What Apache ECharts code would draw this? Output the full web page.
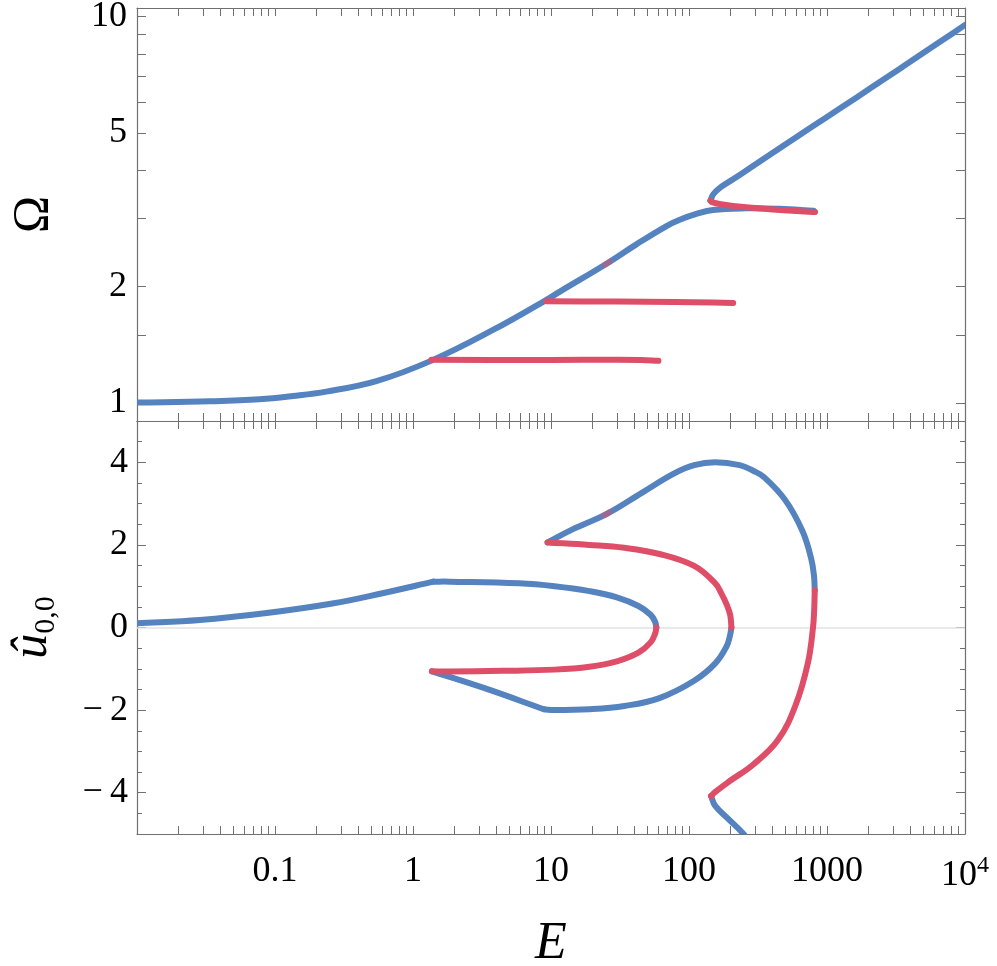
<!DOCTYPE html>
<html>
<head>
<meta charset="utf-8">
<script src="https://cdn.jsdelivr.net/npm/echarts@6/dist/echarts.min.js"></script>
<style>
  html, body { margin: 0; padding: 0; background: #fff; }
  #chart { width: 997px; height: 966px; }
</style>
</head>
<body>
<div id="chart"></div>
<script>
// tick labels
const eLabelValues = [0.1, 1, 10, 100, 1000, 10000]
const omegaLabelValues = [1, 2, 5, 10]
const omegaTickValues = [1, 1.5, 2, 3, 4, 5, 6, 7, 8, 9, 10]
const uLabelValues = [-4, -2, 0, 2, 4]
const uMinorTickValues = [-4.5, -3.5, -3, -2.5, -1.5, -1, -0.5, 0.5, 1, 1.5, 2.5, 3, 3.5, 4.5]

// top panel, Omega against E
const omegaBlueMain = [
  [0.01, 1.002], [0.0337, 1.01], [0.0774, 1.022], [0.135, 1.042], [0.235, 1.07],
  [0.543, 1.139], [1.36, 1.287], [3.8, 1.545], [9.27, 1.849],
  [11.6, 1.942], [25.6, 2.3], [41.3, 2.57], [68.7, 2.87], [85.7, 2.98],
  [113, 3.085], [149, 3.16], [260, 3.19], [454, 3.18], [800, 3.145]
]
const omegaRedFold = [
  [820, 3.12], [792, 3.12], [454, 3.16], [260, 3.21], [170, 3.27], [146.6, 3.31], [143, 3.34]
]
const omegaBlueUpper = [
  [143, 3.34], [150, 3.47], [170, 3.62], [210, 3.8], [275, 4.05], [400, 4.43], [637, 4.95],
  [1000, 5.5], [1650, 6.19], [2700, 6.96], [4000, 7.64], [6500, 8.58], [10000, 9.52]
]
const omegaRedLow = [[1.36, 1.293], [10, 1.292], [30, 1.294], [45, 1.292], [60, 1.286]]
const omegaRedMid = [[9.27, 1.833], [30, 1.83], [78, 1.826], [150, 1.82], [209, 1.815]]
const omegaRedSpot = [[24.6, 2.28], [26.6, 2.32]]

// bottom panel, u_{0,0} against E
const uBlueLeft = [[0.01, 0.1], [0.0285, 0.18], [0.087, 0.35], [0.26, 0.58], [0.6, 0.83], [1.4, 1.11]]
const uBlueInner = [
  [1.4, 1.11], [1.85, 1.11], [5.9, 1.07], [10.6, 1.0], [19, 0.88], [30, 0.73],
  [43, 0.52], [52.7, 0.31], [56.8, 0.14], [58, 0]
]
const uRedInner = [
  [58, 0], [56.8, -0.15], [52.7, -0.36], [43, -0.61], [30, -0.82], [19, -0.95], [10.6, -1.02],
  [4.43, -1.05], [1.85, -1.065], [1.37, -1.06]
]
const uBlueKink = [[1.37, -1.06], [3.3, -1.47], [8.9, -1.98]]
const uBlueMiddle = [
  [8.9, -1.98], [10.6, -2.0], [19, -1.98], [34, -1.9], [61, -1.71],
  [109, -1.29], [155, -0.87], [187, -0.46], [198, -0.2], [203, 0]
]
const uRedMiddle = [
  [203, 0], [199, 0.3], [188, 0.55], [170, 0.85], [155, 1.07], [109, 1.49], [61, 1.78],
  [34, 1.93], [19, 2.0], [9.44, 2.06]
]
const uBlueOuter = [
  [9.44, 2.06], [14.2, 2.37], [25.4, 2.75], [45.5, 3.26], [77, 3.72], [109, 3.93],
  [155, 4.0], [233, 3.93], [294, 3.79], [350, 3.64], [497, 3.09], [665, 2.33], [769, 1.66],
  [805, 1.25], [815, 0.9]
]
const uRedOuter = [
  [815, 0.9], [808, 0.45], [792, 0], [726, -0.87], [592, -1.88], [442, -2.72], [294, -3.31],
  [195, -3.73], [155, -3.98], [144.5, -4.08]
]
const uBlueTail = [[144.5, -4.08], [155, -4.32], [195, -4.65], [247, -4.99], [262, -5.12]]
const uRedSpot = [[24.4, 2.72], [26.4, 2.79]]

const BLUE = '#5583bf'
const RED = '#df4e68'
const FRAME = '#707070'
const FONT = "'Liberation Serif', 'DejaVu Serif', serif"
const LW = 6

// log-spaced tick positions 1..9 per decade
const eTickValues = []
for (let d = -2; d <= 3; d++) {
  for (let m = 1; m <= 9; m++) eTickValues.push(+(m * Math.pow(10, d)).toPrecision(3))
}
eTickValues.push(10000)

// smooth path through pixel points (cubic, tangent scaled by segment lengths)
const smoothPath = (pts, s) => {
  const dist = (a, b) => Math.hypot(b[0] - a[0], b[1] - a[1])
  let d = 'M' + pts[0][0] + ',' + pts[0][1]
  for (let i = 0; i < pts.length - 1; i++) {
    const p0 = pts[i - 1] || pts[i]
    const p1 = pts[i]
    const p2 = pts[i + 1]
    const p3 = pts[i + 2] || p2
    const d01 = dist(p0, p1), d12 = dist(p1, p2), d23 = dist(p2, p3)
    const r1 = d12 / ((d01 + d12) || 1)
    const r2 = d12 / ((d12 + d23) || 1)
    const c1x = p1[0] + (p2[0] - p0[0]) * s * r1
    const c1y = p1[1] + (p2[1] - p0[1]) * s * r1
    const c2x = p2[0] - (p3[0] - p1[0]) * s * r2
    const c2y = p2[1] - (p3[1] - p1[1]) * s * r2
    d += ' C' + c1x + ',' + c1y + ' ' + c2x + ',' + c2y + ' ' + p2[0] + ',' + p2[1]
  }
  return d
}

const chart = echarts.init(document.getElementById('chart'))

const frameAxis = (extra) => Object.assign({
  splitLine: { show: false },
  axisLine: { show: true, onZero: false, lineStyle: { color: FRAME, width: 1.2 } },
  axisTick: { show: true, inside: true, length: 8, lineStyle: { color: FRAME, width: 1 } },
  axisLabel: { show: false },
  silent: true
}, extra)

const xFrame = (gridIndex, position, labels) => frameAxis({
  type: 'log', logBase: 10, min: 0.01, max: 10000, gridIndex, position,
  axisTick: { show: true, inside: true, length: 8, customValues: eTickValues, lineStyle: { color: FRAME, width: 1 } },
  axisLabel: labels ? {
    show: true, customValues: eLabelValues, margin: 20, fontFamily: FONT, fontSize: 36, color: '#000',
    formatter: (v) => {
      const p = Math.round(Math.log10(v))
      if (p === 4) return '{b|10}{p|4}'
      return p < 0 ? '0.1' : String(Math.pow(10, p))
    },
    rich: {
      b: { fontFamily: FONT, fontSize: 36, color: '#000', lineHeight: 40, verticalAlign: 'bottom' },
      p: { fontFamily: FONT, fontSize: 24, color: '#000', lineHeight: 40, verticalAlign: 'top' }
    }
  } : { show: false }
})

const series = []
const addCurve = (data, color, xi, yi, opacity, extra) => {
  series.push(Object.assign({
    type: 'custom', coordinateSystem: 'cartesian2d', xAxisIndex: xi, yAxisIndex: yi,
    data, clip: true, silent: true, animation: false,
    renderItem: (params, api) => {
      if (params.dataIndex !== 0) return null
      const pts = data.map((p) => api.coord(p))
      return {
        type: 'path',
        shape: { pathData: smoothPath(pts, 0.4) },
        style: { fill: 'none', stroke: color, lineWidth: LW, lineCap: 'round', lineJoin: 'round', opacity }
      }
    }
  }, extra || {}))
}

// top
addCurve(omegaBlueMain, BLUE, 0, 0, 1)
addCurve(omegaBlueUpper, BLUE, 0, 0, 1)
addCurve(omegaRedFold, RED, 0, 0, 1)
addCurve(omegaRedLow, RED, 0, 0, 1)
addCurve(omegaRedMid, RED, 0, 0, 1)
addCurve(omegaRedSpot, RED, 0, 0, 0.5)

// bottom
addCurve(uBlueLeft, BLUE, 2, 2, 1, {
  markLine: {
    silent: true, symbol: 'none', z: 1, animation: false, label: { show: false },
    lineStyle: { color: '#e2e2e2', width: 1.5, type: 'solid' },
    data: [{ yAxis: 0 }]
  }
})
addCurve(uBlueInner, BLUE, 2, 2, 1)
addCurve(uBlueKink, BLUE, 2, 2, 1)
addCurve(uBlueMiddle, BLUE, 2, 2, 1)
addCurve(uBlueOuter, BLUE, 2, 2, 1)
addCurve(uBlueTail, BLUE, 2, 2, 1)
addCurve(uRedInner, RED, 2, 2, 1)
addCurve(uRedMiddle, RED, 2, 2, 1)
addCurve(uRedOuter, RED, 2, 2, 1)
addCurve(uRedSpot, RED, 2, 2, 0.5)

const uMajor = (position, labels) => frameAxis({
  type: 'value', min: -5, max: 5, gridIndex: 1, position,
  axisTick: { show: true, inside: true, length: 9, customValues: uLabelValues, lineStyle: { color: FRAME, width: 1 } },
  axisLabel: labels ? {
    show: true, customValues: uLabelValues, margin: 9, fontFamily: FONT, fontSize: 36, color: '#000',
    formatter: (v) => v < 0 ? '\u2212\u2009' + (-v) : String(v)
  } : { show: false }
})
const uMinor = (position) => frameAxis({
  type: 'value', min: -5, max: 5, gridIndex: 1, position,
  axisLine: { show: false },
  axisTick: { show: true, inside: true, length: 5, customValues: uMinorTickValues, lineStyle: { color: FRAME, width: 1 } }
})
const omegaAxis = (position, labels) => frameAxis({
  type: 'log', logBase: 10, min: 0.898, max: 10.53, gridIndex: 0, position,
  axisTick: { show: true, inside: true, length: 9, customValues: omegaTickValues, lineStyle: { color: FRAME, width: 1 } },
  axisLabel: labels ? {
    show: true, customValues: omegaLabelValues, margin: 10, fontFamily: FONT, fontSize: 36, color: '#000',
    formatter: (v) => String(Math.round(v))
  } : { show: false }
})

const option = {
  backgroundColor: '#fff',
  animation: false,
  grid: [
    { left: 137, top: 8, width: 828, height: 413, outerBoundsMode: 'none' },
    { left: 137, top: 421, width: 828, height: 413, outerBoundsMode: 'none' }
  ],
  xAxis: [
    xFrame(0, 'bottom', false),
    xFrame(0, 'top', false),
    Object.assign(xFrame(1, 'bottom', true), {
      name: 'E', nameLocation: 'middle', nameGap: 84,
      nameTextStyle: { fontFamily: FONT, fontStyle: 'italic', fontSize: 52, color: '#000' }
    }),
    xFrame(1, 'top', false)
  ],
  yAxis: [
    Object.assign(omegaAxis('left', true), {
      name: 'Ω', nameLocation: 'middle', nameRotate: 90, nameGap: 78,
      nameTextStyle: { fontFamily: FONT, fontSize: 50, color: '#000' }
    }),
    omegaAxis('right', false),
    Object.assign(uMajor('left', true), {
      name: '{u|û}{s|0,0}', nameLocation: 'middle', nameRotate: 90, nameGap: 76,
      nameTextStyle: {
        rich: {
          u: { fontFamily: FONT, fontStyle: 'italic', fontSize: 50, color: '#000', lineHeight: 56 },
          s: { fontFamily: FONT, fontSize: 30, color: '#000', lineHeight: 30, verticalAlign: 'bottom' }
        }
      }
    }),
    uMinor('left'),
    uMajor('right', false),
    uMinor('right')
  ],
  series
}

chart.setOption(option)
</script>
</body>
</html>
